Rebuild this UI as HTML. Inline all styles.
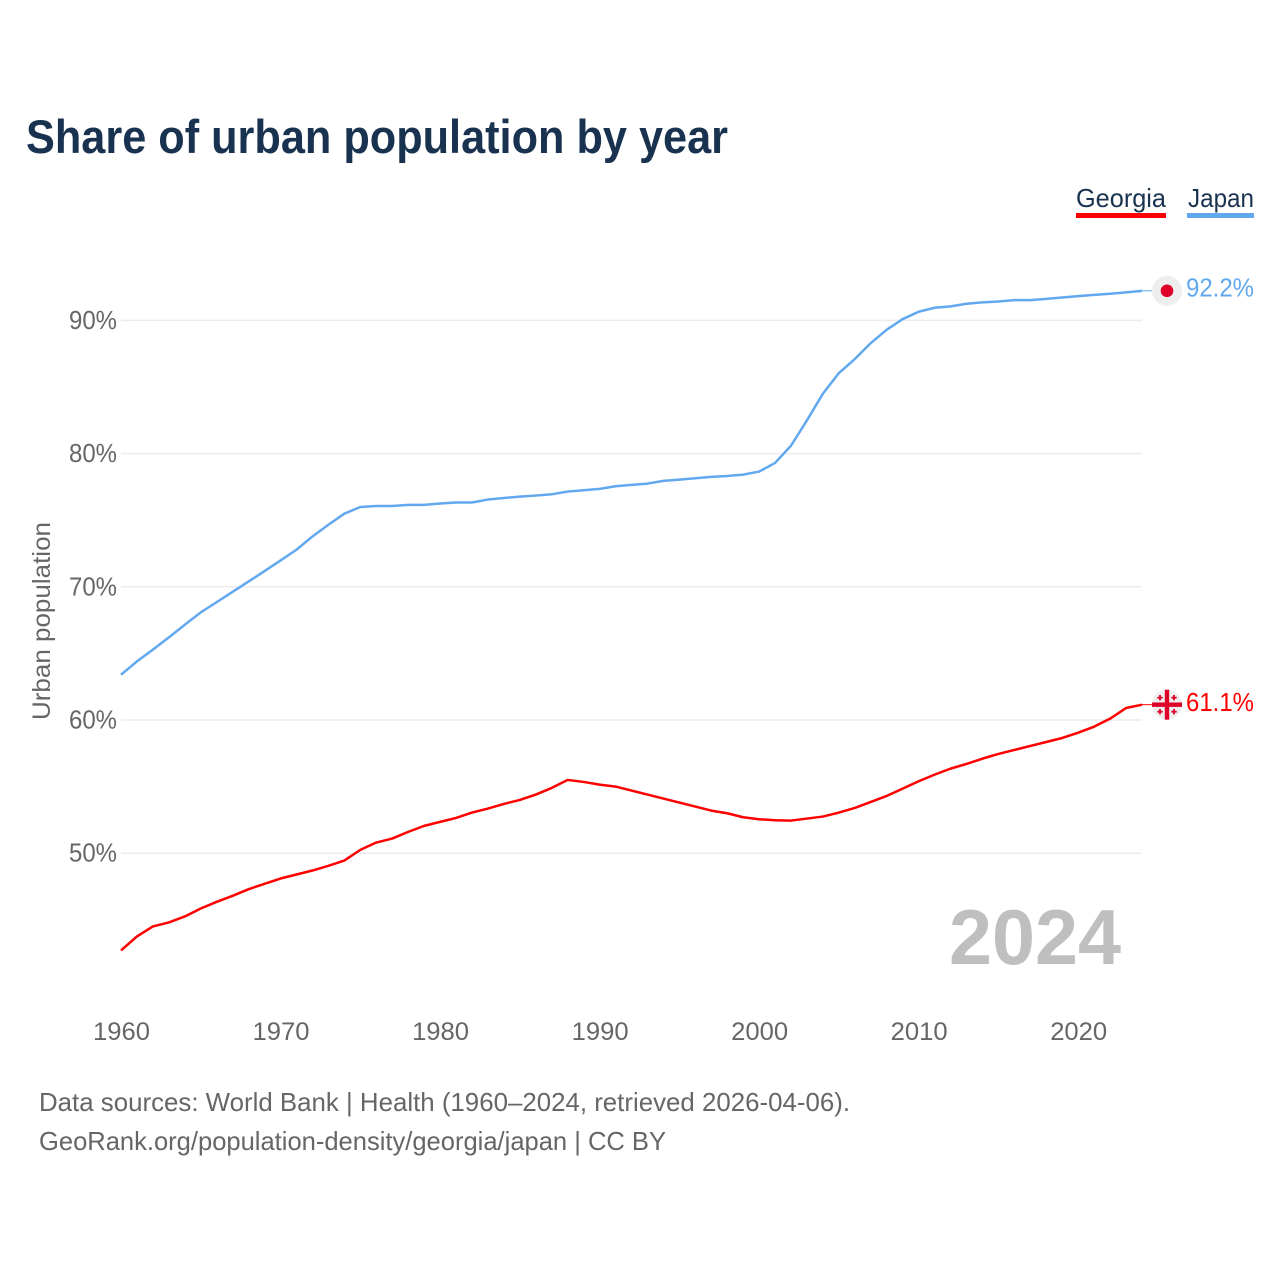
<!DOCTYPE html>
<html lang="en">
<head>
<meta charset="utf-8">
<title>Share of urban population by year</title>
<style>
html,body{margin:0;padding:0;background:#fff;}
svg{display:block;font-family:"Liberation Sans",sans-serif;}
</style>
</head>
<body>
<svg id="chart" width="1280" height="1280" viewBox="0 0 1280 1280" xmlns="http://www.w3.org/2000/svg">
  <rect width="1280" height="1280" fill="#ffffff"/>
  <text x="26" y="153" font-size="47" font-weight="700" fill="#18324f" textLength="702" lengthAdjust="spacingAndGlyphs">Share of urban population by year</text>

  <g id="legend">
    <g>
      <text x="1076" y="207" font-size="26" fill="#18324f" textLength="90" lengthAdjust="spacingAndGlyphs">Georgia</text>
      <rect x="1076" y="213" width="90" height="5" fill="#ff0000"/>
    </g>
    <g>
      <text x="1188" y="207" font-size="26" fill="#18324f" textLength="66" lengthAdjust="spacingAndGlyphs">Japan</text>
      <rect x="1187" y="213" width="67" height="5" fill="#62a8ef"/>
    </g>
  </g>

  <g id="grid"></g>
  <g id="yticks"></g>
  <g id="xticks"></g>
  <text transform="translate(50,621) rotate(-90)" text-anchor="middle" font-size="25" fill="#666666" textLength="198" lengthAdjust="spacingAndGlyphs">Urban population</text>
  <text x="949" y="964" font-size="78" font-weight="700" fill="#bfbfbf" textLength="172" lengthAdjust="spacingAndGlyphs">2024</text>
  <g id="series"></g>
  <g id="ends"></g>

  <text x="39" y="1111" font-size="26" fill="#666666" textLength="811" lengthAdjust="spacingAndGlyphs">Data sources: World Bank | Health (1960–2024, retrieved 2026-04-06).</text>
  <text x="39" y="1150" font-size="26" fill="#666666" textLength="627" lengthAdjust="spacingAndGlyphs">GeoRank.org/population-density/georgia/japan | CC BY</text>
</svg>
<script>
const years = [1960,1961,1962,1963,1964,1965,1966,1967,1968,1969,1970,1971,1972,1973,1974,1975,1976,1977,1978,1979,1980,1981,1982,1983,1984,1985,1986,1987,1988,1989,1990,1991,1992,1993,1994,1995,1996,1997,1998,1999,2000,2001,2002,2003,2004,2005,2006,2007,2008,2009,2010,2011,2012,2013,2014,2015,2016,2017,2018,2019,2020,2021,2022,2023,2024];
const japanValues = [63.4,64.4,65.28,66.2,67.15,68.08,68.85,69.62,70.4,71.18,71.98,72.78,73.78,74.66,75.49,75.99,76.07,76.07,76.15,76.15,76.25,76.33,76.33,76.55,76.67,76.77,76.85,76.95,77.15,77.25,77.35,77.55,77.65,77.75,77.95,78.05,78.15,78.25,78.32,78.42,78.65,79.3,80.6,82.5,84.5,86.05,87.1,88.3,89.3,90.1,90.65,90.95,91.05,91.25,91.35,91.42,91.52,91.52,91.62,91.72,91.82,91.92,92.0,92.1,92.22];
const georgiaValues = [42.7,43.75,44.5,44.8,45.25,45.85,46.35,46.8,47.3,47.7,48.1,48.4,48.7,49.05,49.45,50.25,50.8,51.1,51.6,52.05,52.35,52.65,53.05,53.35,53.7,54.0,54.4,54.9,55.5,55.35,55.15,55.0,54.7,54.4,54.1,53.8,53.5,53.2,53.0,52.7,52.55,52.47,52.45,52.6,52.75,53.05,53.4,53.85,54.3,54.85,55.4,55.9,56.35,56.7,57.1,57.45,57.75,58.05,58.35,58.65,59.05,59.5,60.1,60.9,61.15];
const yTickValues = [50,60,70,80,90];
const xTickValues = [1960,1970,1980,1990,2000,2010,2020];
const japanEndLabel = "92.2%";
const georgiaEndLabel = "61.1%";

const NS = "http://www.w3.org/2000/svg";
function xScale(year){ return 121 + (year - 1960) * (1142 - 121) / 64; }
function yScale(v){ return 853.2 - (v - 50) * 13.32; }
function make(tag, attrs, parent){
  const el = document.createElementNS(NS, tag);
  for (const k in attrs) el.setAttribute(k, attrs[k]);
  parent.appendChild(el);
  return el;
}
function linePoints(values){
  return values.map((v, i) => xScale(years[i]).toFixed(2) + "," + yScale(v).toFixed(2)).join(" ");
}

const gridG = document.getElementById("grid");
const yG = document.getElementById("yticks");
yTickValues.forEach(function(v){
  const gl = make("line", {x1:121, x2:1142, y1:yScale(v), y2:yScale(v), stroke:"#ececec", "stroke-width":1.5}, gridG);
  
  
  const t = make("text", {x:117, y:yScale(v)+8.5, "text-anchor":"end", "font-size":25.5, fill:"#666666", textLength:48, lengthAdjust:"spacingAndGlyphs"}, yG);
  t.textContent = v + "%";
  
  
});

const xG = document.getElementById("xticks");
xTickValues.forEach(function(y){
  const t = make("text", {x:xScale(y)+0.5, y:1040, "text-anchor":"middle", "font-size":25, fill:"#666666", textLength:57, lengthAdjust:"spacingAndGlyphs"}, xG);
  t.textContent = String(y);
  
  
});

const seriesG = document.getElementById("series");
const japanLine = make("polyline", {points:linePoints(japanValues), fill:"none", stroke:"#62a8ef", "stroke-width":2.5, "stroke-linejoin":"round"}, seriesG);


const georgiaLine = make("polyline", {points:linePoints(georgiaValues), fill:"none", stroke:"#ff0000", "stroke-width":2.5, "stroke-linejoin":"round"}, seriesG);



const endsG = document.getElementById("ends");
const markerX = 1167;
const jy = yScale(japanValues[japanValues.length-1]);
const gy = yScale(georgiaValues[georgiaValues.length-1]);

const jc = make("line", {x1:1142, x2:1152, y1:jy, y2:jy, stroke:"#62a8ef", "stroke-width":1}, endsG);


const jb = make("circle", {cx:markerX, cy:jy, r:15, fill:"#eeeeee"}, endsG);


const jd = make("circle", {cx:markerX, cy:jy, r:6.3, fill:"#de0029"}, endsG);


const jl = make("text", {x:1186, y:jy+5.8, "font-size":26, fill:"#62a8ef", textLength:68, lengthAdjust:"spacingAndGlyphs"}, endsG);
jl.textContent = japanEndLabel;



const gc = make("line", {x1:1142, x2:1152, y1:gy, y2:gy, stroke:"#ff0000", "stroke-width":1}, endsG);


const gb = make("circle", {cx:markerX, cy:gy, r:15, fill:"#eeeeee"}, endsG);


const flagG = make("g", {fill:"#de0029"}, endsG);


make("rect", {x:markerX-15, y:gy-2.2, width:30, height:4.4}, flagG);
make("rect", {x:markerX-2.2, y:gy-15, width:4.4, height:30}, flagG);
[[-7,-7],[7,-7],[-7,7],[7,7]].forEach(function(o){
  make("rect", {x:markerX+o[0]-2.7, y:gy+o[1]-0.9, width:5.4, height:1.8}, flagG);
  make("rect", {x:markerX+o[0]-0.9, y:gy+o[1]-2.7, width:1.8, height:5.4}, flagG);
});
const gl2 = make("text", {x:1186, y:gy+6.2, "font-size":26, fill:"#ff0000", textLength:68, lengthAdjust:"spacingAndGlyphs"}, endsG);
gl2.textContent = georgiaEndLabel;


</script>
</body>
</html>
